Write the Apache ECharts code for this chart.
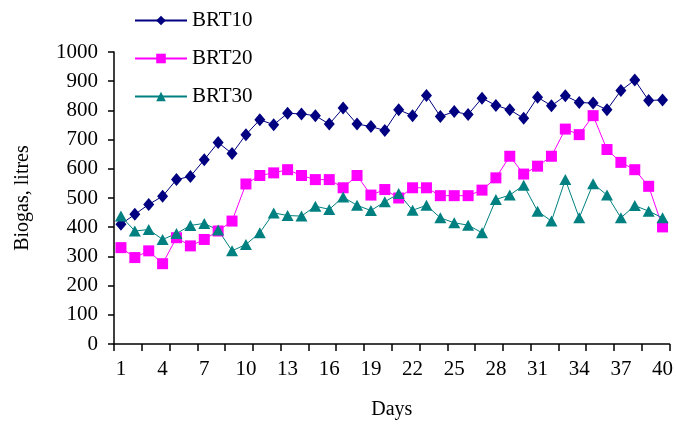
<!DOCTYPE html>
<html>
<head>
<meta charset="utf-8">
<script src="https://cdn.jsdelivr.net/npm/echarts@6/dist/echarts.min.js"></script>
<style>html,body{margin:0;padding:0;background:#fff}#c{width:676px;height:425px}</style>
</head>
<body>
<div id="c"></div>
<script>
var days = [];
for (var d = 1; d <= 40; d++) days.push(String(d));
var brt10 = [410,444,478,506,563,574,631,690,652,717,768,751,790,788,782,753,808,753,745,731,802,782,851,779,796,786,842,817,802,773,845,816,850,827,825,802,868,904,834,836];
var brt20 = [330,296,319,275,364,336,358,387,421,548,577,586,597,577,563,563,535,577,510,529,500,535,535,508,508,508,527,569,643,582,609,643,736,717,782,666,622,597,540,401];
var brt30 = [438,387,392,358,378,406,413,390,319,341,381,449,440,438,472,461,503,475,457,487,515,458,475,432,415,407,381,495,510,544,455,421,563,432,549,510,432,474,455,432];
var yTicks = {min: 0, max: 1000, interval: 100};

var font = '"Liberation Serif", "Times New Roman", serif';
var chart = echarts.init(document.getElementById('c'));
chart.setOption({
  animation: false,
  backgroundColor: '#fff',
  textStyle: {fontFamily: font, color: '#000'},
  grid: {left: 114, right: 3, top: 52, bottom: 81},
  legend: {
    orient: 'vertical', left: 129, top: 5, itemWidth: 52, itemHeight: 12, itemGap: 17,
    textStyle: {fontFamily: font, fontSize: 21, color: '#000'},
    data: ['BRT10', 'BRT20', 'BRT30']
  },
  xAxis: {
    type: 'category', data: days, boundaryGap: true,
    name: 'Days', nameLocation: 'middle', nameGap: 56,
    nameTextStyle: {fontFamily: font, fontSize: 20, color: '#000'},
    axisLine: {lineStyle: {color: '#000', width: 1.5}},
    axisTick: {show: true, interval: 1, length: 7, lineStyle: {color: '#000', width: 1.5}},
    axisLabel: {interval: 2, fontFamily: font, fontSize: 21, color: '#000', margin: 15},
    splitLine: {show: false}
  },
  yAxis: {
    type: 'value', min: yTicks.min, max: yTicks.max, interval: yTicks.interval,
    name: 'Biogas, litres', nameLocation: 'middle', nameGap: 81,
    nameTextStyle: {fontFamily: font, fontSize: 20, color: '#000'},
    axisLine: {show: true, lineStyle: {color: '#000', width: 1.5}},
    axisTick: {show: true, length: 6, lineStyle: {color: '#000', width: 1.5}},
    axisLabel: {fontFamily: font, fontSize: 21, color: '#000', margin: 16,
                formatter: function (v) { return String(v); }},
    splitLine: {show: false}
  },
  series: [
    {name: 'BRT10', type: 'line', data: brt10, symbol: 'diamond', symbolSize: [11, 13], showAllSymbol: true,
     itemStyle: {color: '#000080'}, lineStyle: {color: '#000080', width: 1}},
    {name: 'BRT20', type: 'line', data: brt20, symbol: 'rect', symbolSize: 11, showAllSymbol: true,
     itemStyle: {color: '#FF00FF'}, lineStyle: {color: '#FF00FF', width: 1}},
    {name: 'BRT30', type: 'line', data: brt30, symbol: 'triangle', symbolSize: [12, 11], showAllSymbol: true,
     itemStyle: {color: '#008080'}, lineStyle: {color: '#008080', width: 1}}
  ]
});
</script>
</body>
</html>
